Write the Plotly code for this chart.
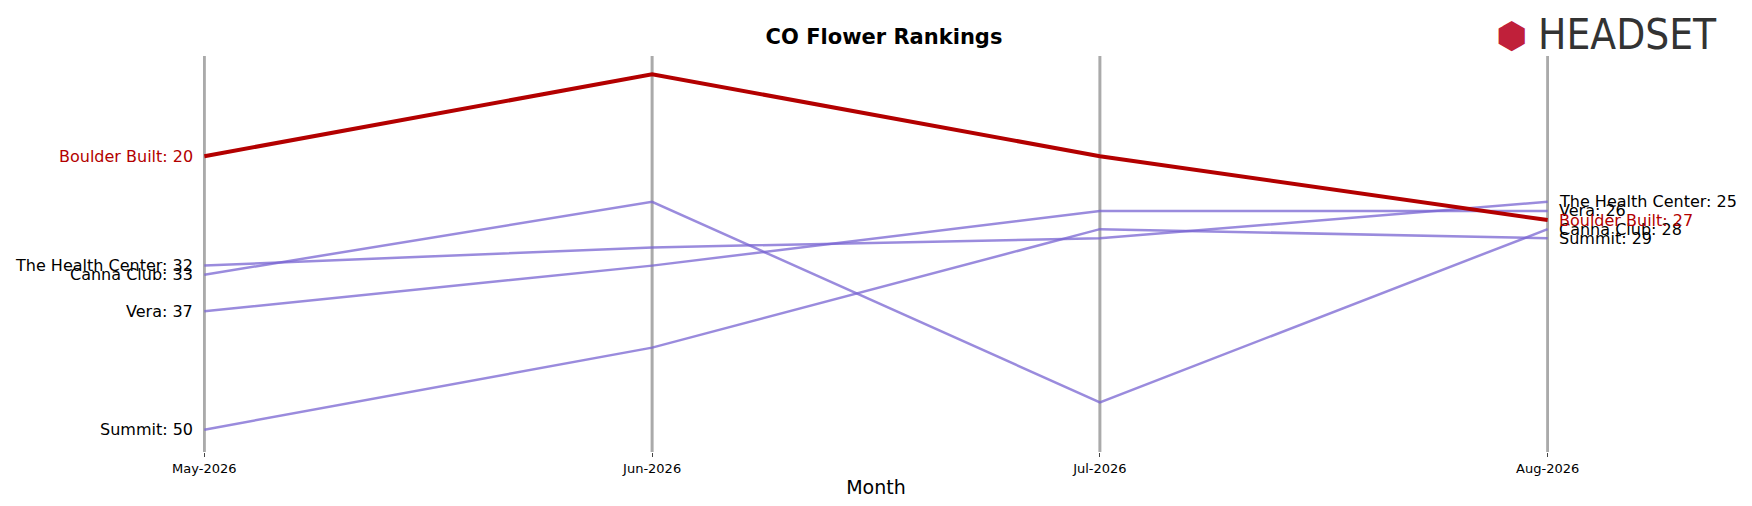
import plotly.graph_objects as go

months = ["May-2026", "Jun-2026", "Jul-2026", "Aug-2026"]
brands = ["Boulder Built", "The Health Center", "Canna Club", "Vera", "Summit"]
ranks = {
    "Boulder Built": [20, 11, 20, 27],
    "The Health Center": [32, 30, 29, 25],
    "Canna Club": [33, 25, 47, 28],
    "Vera": [37, 32, 26, 26],
    "Summit": [50, 41, 28, 29],
}
highlight = "Boulder Built"

RED = "#b30000"
PURPLE = "rgba(120,100,210,0.75)"
FONT = "DejaVu Sans"

fig = go.Figure()
xs = list(range(len(months)))

# others first, highlighted on top
for b in [b for b in brands if b != highlight] + [highlight]:
    hl = b == highlight
    fig.add_trace(go.Scatter(
        x=xs, y=ranks[b], mode="lines", name=b,
        line=dict(color=RED if hl else PURPLE, width=4 if hl else 2.5),
        showlegend=False, cliponaxis=False,
    ))
    col = RED if hl else "black"
    fig.add_annotation(x=xs[0], y=ranks[b][0], text=f"{b}: {ranks[b][0]}",
                       xanchor="right", xshift=-9, showarrow=False,
                       font=dict(family=FONT, size=16, color=col))
    fig.add_annotation(x=xs[-1], y=ranks[b][-1], text=f"{b}: {ranks[b][-1]}",
                       xanchor="left", xshift=9, showarrow=False,
                       font=dict(family=FONT, size=16, color=col))

for x in xs:
    fig.add_shape(type="line", x0=x, x1=x, y0=0, y1=1, yref="paper",
                  line=dict(color="#aaaaaa", width=3), layer="below")

# logo
fig.add_annotation(x=1.058, y=1.055, xref="paper", yref="paper",
                   text="HEADSET", showarrow=False, xanchor="center", yanchor="middle",
                   font=dict(family="Liberation Sans Narrow, DejaVu Sans Condensed", size=42, color="#333333"))
fig.add_annotation(x=0.972, y=1.055, xref="paper", yref="paper",
                   text="⬢", showarrow=False, xanchor="center", yanchor="middle",
                   font=dict(size=36, color="#c0203a"))

fig.update_layout(
    width=1752, height=506,
    plot_bgcolor="white", paper_bgcolor="white",
    margin=dict(l=195, r=211, t=48, b=62),
    title=dict(text="<b>CO Flower Rankings</b>", x=0.5, xanchor="center",
               y=1 - 29 / 506, yanchor="middle",
               font=dict(family=FONT, size=21, color="black")),
    xaxis=dict(tickmode="array", tickvals=xs, ticktext=months, range=[-0.003, 3.003],
               showgrid=False, zeroline=False, ticks="outside", ticklen=4,
               tickfont=dict(family=FONT, size=13, color="black"),
               title=dict(text="Month", standoff=6,
                          font=dict(family=FONT, size=19, color="black"))),
    yaxis=dict(range=[52.45, 9.0], visible=False),
)
fig.write_html("out.html")
